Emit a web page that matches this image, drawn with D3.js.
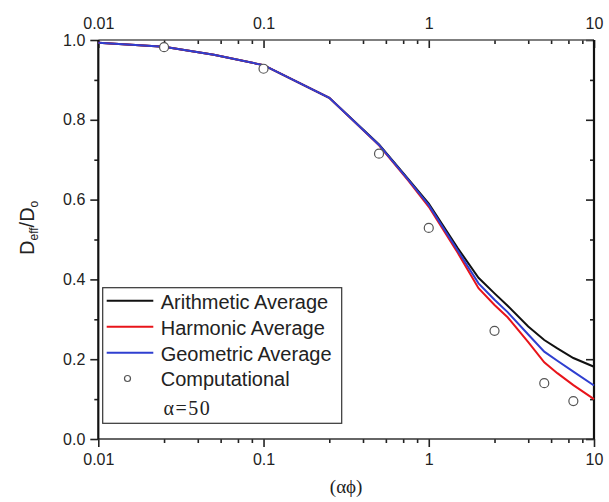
<!DOCTYPE html>
<html>
<head>
<meta charset="utf-8">
<script src="https://cdn.jsdelivr.net/npm/d3@7"></script>
<style>
  body { margin: 0; background: #fff; }
  svg { display: block; }
  text { font-family: "Liberation Sans", Arial, sans-serif; fill: #222; }
</style>
</head>
<body>
<div id="myPlot"></div>
<script>
// values
const xGrid      = [0.01, 0.025, 0.05, 0.1, 0.25, 0.5, 0.75, 1, 1.5, 2, 2.5, 3, 4, 5, 6, 7.5, 10];
const arithmetic = [0.993, 0.983, 0.963, 0.937, 0.855, 0.738, 0.652, 0.590, 0.478, 0.404, 0.365, 0.334, 0.282, 0.248, 0.227, 0.203, 0.181];
const harmonic   = [0.993, 0.983, 0.963, 0.937, 0.855, 0.736, 0.648, 0.582, 0.466, 0.378, 0.336, 0.305, 0.243, 0.192, 0.165, 0.135, 0.100];
const geometric  = [0.993, 0.983, 0.963, 0.937, 0.855, 0.737, 0.650, 0.586, 0.472, 0.390, 0.349, 0.318, 0.262, 0.219, 0.196, 0.169, 0.134];
const compX = [0.025, 0.1, 0.5, 1, 2.5, 5, 7.5];
const compY = [0.982, 0.928, 0.715, 0.529, 0.271, 0.140, 0.095];

const xMajor = [0.01, 0.1, 1, 10];
const xMinorSteps = [2.5, 4, 5.5, 7, 8.5];
const yMajor = [0, 0.2, 0.4, 0.6, 0.8, 1.0];
const yMinor = [0.1, 0.3, 0.5, 0.7, 0.9];

const seriesNames = ["Arithmetic Average", "Harmonic Average", "Geometric Average"];
const seriesColors = ["#111111", "#e8141a", "#2f3fd0"];

drawChart();

function drawChart() {
    const width = 609, height = 502;
    const left = 98.3, right = 594, top = 40, bottom = 439;

    const svg = d3.select("#myPlot")
        .append("svg")
        .attr("width", width)
        .attr("height", height);

    const x = d3.scaleLog().domain([0.01, 10]).range([left, right]);
    const y = d3.scaleLinear().domain([0, 1]).range([bottom, top]);

    const xMinor = [];
    xMajor.slice(0, -1).forEach(d => xMinorSteps.forEach(s => xMinor.push(d * s)));

    const fmt = d => String(d);

    // Bottom axis (ticks outward)
    const gb = svg.append("g").attr("transform", "translate(0," + bottom + ")");
    gb.call(d3.axisBottom(x).tickValues(xMajor).tickFormat(fmt).tickSizeOuter(0).tickSize(8).tickPadding(6.5));
    gb.append("g").call(d3.axisBottom(x).tickValues(xMinor).tickFormat("").tickSizeOuter(0).tickSize(4));

    // Top axis (ticks inward, labels above)
    const gt = svg.append("g").attr("transform", "translate(0," + top + ")");
    gt.call(d3.axisTop(x).tickValues(xMajor).tickFormat(fmt).tickSizeOuter(0).tickSize(-8).tickPadding(11.5));
    gt.append("g").call(d3.axisTop(x).tickValues(xMinor).tickFormat("").tickSizeOuter(0).tickSize(-4));

    // Left axis (ticks outward)
    const gl = svg.append("g").attr("transform", "translate(" + left + ",0)");
    gl.call(d3.axisLeft(y).tickValues(yMajor).tickFormat(d3.format(".1f")).tickSizeOuter(0).tickSize(8).tickPadding(5));
    gl.append("g").call(d3.axisLeft(y).tickValues(yMinor).tickFormat("").tickSizeOuter(0).tickSize(4));

    // Right axis (ticks inward)
    const gr = svg.append("g").attr("transform", "translate(" + right + ",0)");
    gr.call(d3.axisRight(y).tickValues(yMajor).tickFormat("").tickSizeOuter(0).tickSize(-8));
    gr.append("g").call(d3.axisRight(y).tickValues(yMinor).tickFormat("").tickSizeOuter(0).tickSize(-4));

    svg.selectAll(".domain").remove();
    svg.selectAll(".tick line").attr("stroke", "#222").attr("stroke-width", 1.6);
    svg.selectAll(".tick text").attr("font-size", 16).attr("fill", "#222")
        .attr("font-family", "'Liberation Sans', Arial, sans-serif");

    // frame
    svg.append("line").attr("x1", left).attr("x2", right).attr("y1", top).attr("y2", top)
        .attr("stroke", "#555").attr("stroke-width", 1.3);
    svg.append("line").attr("x1", left).attr("x2", right).attr("y1", bottom).attr("y2", bottom)
        .attr("stroke", "#333").attr("stroke-width", 1.6);
    svg.append("line").attr("x1", left).attr("x2", left).attr("y1", top).attr("y2", bottom)
        .attr("stroke", "#111").attr("stroke-width", 2.2);
    svg.append("line").attr("x1", right).attr("x2", right).attr("y1", top).attr("y2", bottom)
        .attr("stroke", "#111").attr("stroke-width", 2.2);

    // Lines
    const allSeries = [arithmetic, harmonic, geometric];
    const line = d3.line()
        .x((d, i) => x(xGrid[i]))
        .y(d => y(d));

    allSeries.forEach((vals, k) => {
        svg.append("path")
            .datum(vals)
            .attr("d", line)
            .attr("fill", "none")
            .attr("stroke", seriesColors[k])
            .attr("stroke-width", 2);
    });

    // Computational points
    svg.selectAll("circle.comp")
        .data(compX)
        .enter()
        .append("circle")
        .attr("class", "comp")
        .attr("cx", d => x(d))
        .attr("cy", (d, i) => y(compY[i]))
        .attr("r", 4.5)
        .attr("fill", "#fff")
        .attr("stroke", "#555")
        .attr("stroke-width", 1.2);

    // Legend
    const lg = svg.append("g");
    lg.append("rect")
        .attr("x", 102.7).attr("y", 287.7)
        .attr("width", 239).attr("height", 135.6)
        .attr("fill", "#fff").attr("stroke", "#333").attr("stroke-width", 1.2);

    seriesNames.forEach((name, k) => {
        const cy = 300.7 + k * 26;
        lg.append("line")
            .attr("x1", 106.7).attr("x2", 153.3)
            .attr("y1", cy).attr("y2", cy)
            .attr("stroke", seriesColors[k]).attr("stroke-width", 2);
        lg.append("text")
            .attr("x", 160.7).attr("y", cy + 8.5)
            .attr("font-size", 20)
            .text(name);
    });
    lg.append("circle")
        .attr("cx", 127.5).attr("cy", 378.5).attr("r", 3)
        .attr("fill", "#fff").attr("stroke", "#555").attr("stroke-width", 1.2);
    lg.append("text")
        .attr("x", 160.7).attr("y", 385.5)
        .attr("font-size", 20)
        .text("Computational");
    lg.append("text")
        .attr("x", 163.5).attr("y", 415)
        .attr("font-size", 20)
        .attr("letter-spacing", 1.5)
        .style("font-family", "'Liberation Serif', 'Times New Roman', serif")
        .text("α=50");

    // Axis titles
    svg.append("text")
        .attr("x", (left + right) / 2).attr("y", 493)
        .attr("text-anchor", "middle")
        .attr("font-size", 19)
        .style("font-family", "'Liberation Serif', 'Times New Roman', serif")
        .text("(αϕ)");

    const yt = svg.append("text")
        .attr("transform", "translate(34,255) rotate(-90)")
        .attr("font-size", 20);
    yt.append("tspan").text("D");
    yt.append("tspan").attr("font-size", 12).attr("dy", 4).text("eff");
    yt.append("tspan").attr("dy", -4).text("/D");
    yt.append("tspan").attr("font-size", 12).attr("dy", 4).text("o");
}
</script>
</body>
</html>
